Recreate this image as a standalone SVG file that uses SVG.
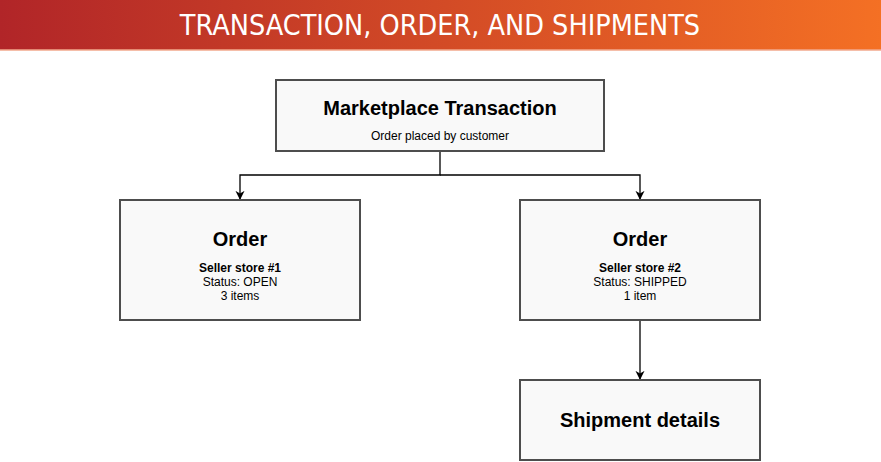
<svg xmlns="http://www.w3.org/2000/svg" width="881" height="462" viewBox="0 0 881 462">
<style>
.box{fill:#f9f9f9;stroke:#4d4d4d;stroke-width:2}
.t{font-family:"Liberation Sans",Arial,sans-serif;text-anchor:middle;fill:#000}
.h{font-size:20px;font-weight:bold}
.s{font-size:12px}
.b{font-weight:bold}
.c{fill:none;stroke:#000;stroke-width:1.3}
</style>
<defs>
<linearGradient id="g" x1="0" x2="1"><stop offset="0" stop-color="#b12528"/><stop offset="1" stop-color="#f47024"/></linearGradient>
<marker id="a" viewBox="0 0 10 10" refX="9" refY="5" markerWidth="7" markerHeight="7" orient="auto"><path d="M0,0 L10,5 L0,10 L3,5z" fill="#000"/></marker>
</defs>
<rect width="881" height="462" fill="#fff"/>
<g id="header">
<rect x="0" y="0" width="881" height="50" fill="url(#g)"/>
<line x1="0" y1="50" x2="881" y2="50" stroke="#f2a98c" stroke-width="1.5"/>
<text x="440" y="35" text-anchor="middle" font-family="'DejaVu Sans Condensed','DejaVu Sans',sans-serif" font-stretch="condensed" font-size="28.5" fill="#fff">TRANSACTION, ORDER, AND SHIPMENTS</text>
</g>
<g id="connectors">
<path class="c" d="M440,151 V175 H240 V199" marker-end="url(#a)"/>
<path class="c" d="M440,175 H640 V199" marker-end="url(#a)"/>
<path class="c" d="M640,320 V379" marker-end="url(#a)"/>
</g>
<g id="transaction">
<rect class="box" x="276" y="80" width="328" height="71"/>
<text class="t h" x="440" y="115">Marketplace Transaction</text>
<text class="t s" x="440" y="140">Order placed by customer</text>
</g>
<g id="order1">
<rect class="box" x="120" y="200" width="240" height="120"/>
<text class="t h" x="240" y="246">Order</text>
<text class="t s b" x="240" y="272">Seller store #1</text>
<text class="t s" x="240" y="286">Status: OPEN</text>
<text class="t s" x="240" y="300">3 items</text>
</g>
<g id="order2">
<rect class="box" x="520" y="200" width="240" height="120"/>
<text class="t h" x="640" y="246">Order</text>
<text class="t s b" x="640" y="272">Seller store #2</text>
<text class="t s" x="640" y="286">Status: SHIPPED</text>
<text class="t s" x="640" y="300">1 item</text>
</g>
<g id="shipment">
<rect class="box" x="520" y="380" width="240" height="80"/>
<text class="t h" x="640" y="427">Shipment details</text>
</g>
</svg>
